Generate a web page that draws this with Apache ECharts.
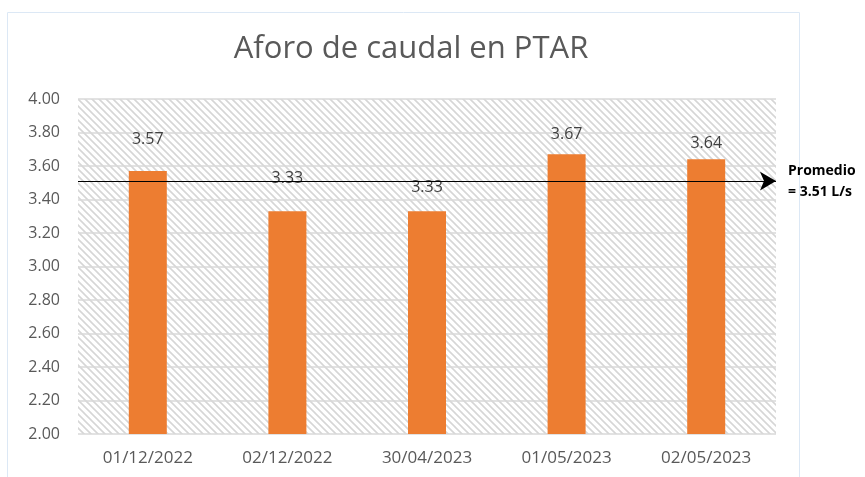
<!DOCTYPE html>
<html>
<head>
<meta charset="utf-8">
<script src="https://cdn.jsdelivr.net/npm/echarts@6/dist/echarts.min.js"></script>
<style>
  html, body { margin: 0; padding: 0; background: #fff; }
  #chart { width: 865px; height: 477px; }
</style>
</head>
<body>
<div id="chart"></div>
<script>
// datos del aforo
var fechas = ['01/12/2022', '02/12/2022', '30/04/2023', '01/05/2023', '02/05/2023'];
var caudal = [3.57, 3.33, 3.33, 3.67, 3.64];
var promedio = [3.51];
var yTicks = [2.0, 2.2, 2.4, 2.6, 2.8, 3.0, 3.2, 3.4, 3.6, 3.8, 4.0];

// desplazamiento vertical de cada etiqueta (como en la hoja original)
var labelShift = [-19, -20, -11, -7, -3];

// fondo rayado del area de trazado
function hatch () {
  var c = document.createElement('canvas');
  c.width = 7; c.height = 7;
  var ctx = c.getContext('2d');
  ctx.fillStyle = '#ffffff';
  ctx.fillRect(0, 0, 7, 7);
  ctx.strokeStyle = '#d6d6d6';
  ctx.lineWidth = 1.6;
  ctx.beginPath();
  ctx.moveTo(-1, -1); ctx.lineTo(8, 8);
  ctx.moveTo(-8, -1); ctx.lineTo(1, 8);
  ctx.moveTo(6, -1); ctx.lineTo(15, 8);
  ctx.stroke();
  return c;
}

var chart = echarts.init(document.getElementById('chart'));
chart.setOption({
  animation: false,
  textStyle: { fontFamily: 'Open Sans' },
  title: {
    text: 'Aforo de caudal en PTAR',
    left: 406,
    top: 29,
    textAlign: 'center',
    textStyle: { fontFamily: 'Open Sans', fontWeight: 'normal', fontSize: 31, color: '#595959' }
  },
  graphic: [{
    type: 'rect',
    shape: { x: 7.5, y: 12.5, width: 792, height: 470 },
    style: { fill: 'none', stroke: '#dce8f5', lineWidth: 1 },
    silent: true,
    z: -10
  }],
  grid: {
    left: 78, right: 89, top: 99, bottom: 43,
    show: true,
    backgroundColor: { image: hatch(), repeat: 'repeat' },
    borderWidth: 0
  },
  xAxis: {
    type: 'category',
    data: fechas,
    axisLine: { show: false },
    axisTick: { show: false },
    axisLabel: { color: '#595959', fontSize: 17, margin: 16 }
  },
  yAxis: {
    type: 'value',
    min: yTicks[0],
    max: yTicks[yTicks.length - 1],
    interval: 0.2,
    axisLine: { show: false },
    axisTick: { show: false },
    axisLabel: { color: '#595959', fontSize: 16, margin: 18, formatter: function (v) { return v.toFixed(2); } },
    splitLine: { lineStyle: { color: '#d9d9d9', width: 1.5 } }
  },
  series: [{
    type: 'bar',
    barWidth: 38,
    data: caudal.map(function (v, i) {
      return { value: v, label: { offset: [0, labelShift[i]] } };
    }),
    itemStyle: { color: '#ed7d31' },
    label: {
      show: true,
      position: 'top',
      color: '#404040',
      fontSize: 16,
      formatter: function (p) { return p.value.toFixed(2); }
    },
    markLine: {
      silent: true,
      symbol: ['none', 'arrow'],
      symbolSize: [14, 16],
      lineStyle: { color: '#000', width: 1, type: 'solid' },
      label: {
        show: true,
        position: 'end',
        distance: 12,
        align: 'left',
        color: '#000',
        fontWeight: 'bold',
        fontSize: 14,
        lineHeight: 21,
        formatter: 'Promedio\n= ' + promedio[0].toFixed(2) + ' L/s'
      },
      data: [{ yAxis: promedio[0] }]
    }
  }]
});
</script>
</body>
</html>
